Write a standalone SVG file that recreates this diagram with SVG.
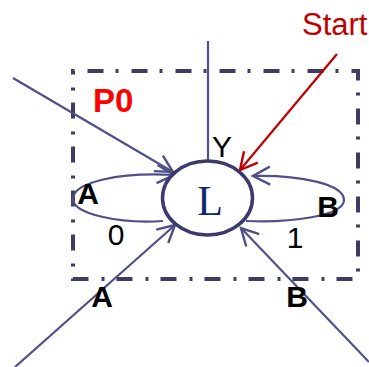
<svg xmlns="http://www.w3.org/2000/svg" width="369" height="367" viewBox="0 0 369 367">
<style>
.c{fill:none;stroke:#4f5088;stroke-width:2.2}
.r{fill:none;stroke:#c00000;stroke-width:2.2}
.t{font-family:"Liberation Sans",Arial,sans-serif;font-size:30px;fill:#000}
.b{font-weight:bold}
</style>
<defs>
<marker id="a" markerUnits="userSpaceOnUse" markerWidth="26" markerHeight="26" viewBox="-20 -13 26 26" refX="0" refY="0" orient="auto">
<path d="M-17,-9 L0,0 L-17,9" fill="none" stroke="#4f5088" stroke-width="2.4"/>
</marker>
<marker id="ar" markerUnits="userSpaceOnUse" markerWidth="26" markerHeight="26" viewBox="-20 -13 26 26" refX="0" refY="0" orient="auto">
<path d="M-17,-9 L0,0 L-17,9" fill="none" stroke="#c00000" stroke-width="2.4"/>
</marker>
</defs>
<rect x="0" y="0" width="369" height="367" fill="#fff"/>
<g id="frame">
<path d="M73,71 H358 V279 H73 Z" fill="none" stroke="#3d3d63" stroke-width="4" stroke-dasharray="16 12 3 13" stroke-dashoffset="29.5"/>
<text x="93" y="112" font-family="Liberation Sans,Arial,sans-serif" font-size="33" font-weight="bold" fill="#ff0000">P0</text>
</g>
<g id="connectors">
<line class="c" x1="208" y1="41" x2="208" y2="161"/>
<line class="c" x1="13" y1="78" x2="173" y2="172" marker-end="url(#a)"/>
<path class="c" d="M163,221 C120,224 73,214 73,199 C73,182 120,172 174,175" marker-end="url(#a)"/>
<path class="c" d="M246,221 C290,223 344,216 344,200 C344,184 300,175 253,176" marker-end="url(#a)"/>
<line class="c" x1="15" y1="367" x2="175" y2="225" marker-end="url(#a)"/>
<line class="c" x1="369" y1="362" x2="241" y2="228" marker-end="url(#a)"/>
<line class="r" x1="337" y1="54" x2="240" y2="170" marker-end="url(#ar)"/>
</g>
<g id="L">
<ellipse cx="207.5" cy="198" rx="45" ry="37" fill="#fff" stroke="#3b3b6b" stroke-width="3.5"/>
<text x="210" y="215" text-anchor="middle" font-family="Liberation Serif,Times New Roman,serif" font-size="42" fill="#0e2a6b">L</text>
</g>
<g id="labels">
<text x="302" y="35" font-family="Liberation Sans,Arial,sans-serif" font-size="31" fill="#c00000">Start</text>
<text class="t" x="222" y="157" text-anchor="middle">Y</text>
<text class="t b" x="88" y="204" text-anchor="middle">A</text>
<text class="t b" x="328" y="217" text-anchor="middle">B</text>
<text class="t" x="116" y="245" text-anchor="middle">0</text>
<text class="t" x="295" y="248" text-anchor="middle">1</text>
<text class="t b" x="102" y="307" text-anchor="middle">A</text>
<text class="t b" x="297" y="307" text-anchor="middle">B</text>
</g>
</svg>
